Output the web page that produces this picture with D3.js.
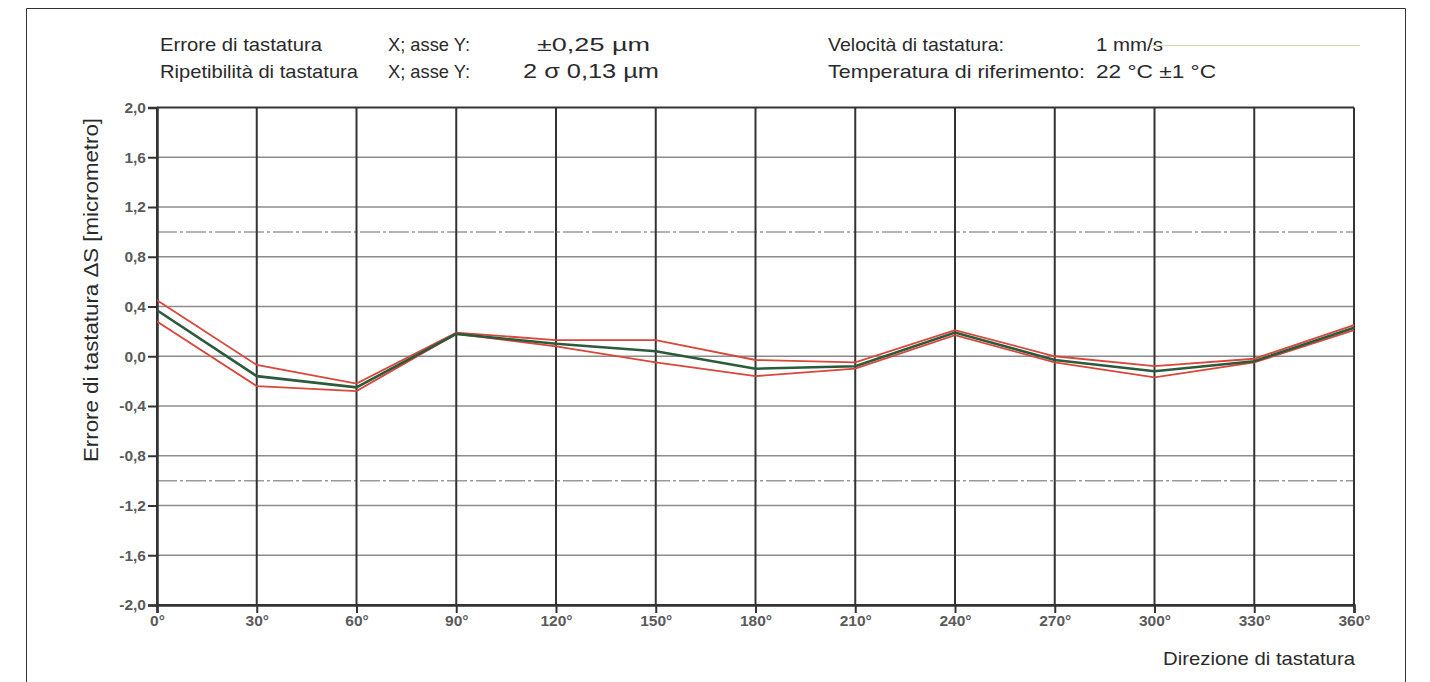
<!DOCTYPE html>
<html><head><meta charset="utf-8">
<script src="https://cdn.jsdelivr.net/npm/d3@7"></script>
<style>
html,body{margin:0;padding:0;background:#fff;}
svg{display:block;font-family:"Liberation Sans",Arial,sans-serif;}
</style></head>
<body>
<svg id="c" width="1430" height="682"></svg>
<script>
const angles = [0,30,60,90,120,150,180,210,240,270,300,330,360];
const meanErr  = [0.37,-0.16,-0.25,0.18,0.10,0.04,-0.10,-0.08,0.19,-0.03,-0.12,-0.04,0.23];
const upperErr = [0.45,-0.07,-0.22,0.19,0.13,0.13,-0.03,-0.05,0.21,0.00,-0.08,-0.02,0.25];
const lowerErr = [0.28,-0.24,-0.28,0.18,0.08,-0.05,-0.16,-0.10,0.17,-0.05,-0.17,-0.05,0.21];
const yTicks = [2.0,1.6,1.2,0.8,0.4,0.0,-0.4,-0.8,-1.2,-1.6,-2.0];
const limitLines = [1.0,-1.0];
const headerLeft = [["Errore di tastatura","X; asse Y:","±0,25 µm"],["Ripetibilità di tastatura","X; asse Y:","2 σ 0,13 µm"]];
const headerRight = [["Velocità di tastatura:","1 mm/s"],["Temperatura di riferimento:","22 °C ±1 °C"]];

const svg = d3.select("#c");
const x = d3.scaleLinear().domain([0,360]).range([157,1354]);
const y = d3.scaleLinear().domain([-2,2]).range([605,107.5]);

// frame
svg.append("path").attr("d","M26.5,682 V8.5 H1405.5 V682").attr("fill","none").attr("stroke","#333").attr("stroke-width",1);

// header
const hl = svg.append("g").attr("fill","#2a2a2a").attr("font-size",19);
function t(g, xx, yy, s, w, fs){
  const e = g.append("text").attr("x",xx).attr("y",yy).text(s)
    .attr("textLength",w).attr("lengthAdjust","spacingAndGlyphs");
  if(fs) e.attr("font-size",fs);
  return e;
}
const lw = [[162,82,113],[198,82,136]];
headerLeft.forEach((r,i)=>{
  const yy = 51 + i*27;
  t(hl,160,yy,r[0],lw[i][0]);
  t(hl,388,yy,r[1],lw[i][1]);
  t(hl,i===0?537:523,yy,r[2],lw[i][2],i===0?18:21);
});
const rw = [[176,67],[257,120]];
headerRight.forEach((r,i)=>{
  const yy = 51 + i*27;
  t(hl,828,yy,r[0],rw[i][0]);
  t(hl,1096,yy,r[1],rw[i][1]);
});
svg.append("line").attr("x1",1150).attr("x2",1360).attr("y1",45.5).attr("y2",45.5).attr("stroke","#d6dc9c").attr("stroke-width",1.2);

// horizontal grid
svg.append("g").selectAll("line").data(yTicks).join("line")
  .attr("x1",x(0)).attr("x2",x(360)).attr("y1",d=>y(d)).attr("y2",d=>y(d))
  .attr("stroke",d=>(d===2||d===-2)?"#333":"#8c8c8c").attr("stroke-width",d=>(d===2||d===-2)?2:1.5);

// limit lines
svg.append("g").selectAll("line").data(limitLines).join("line")
  .attr("x1",x(0)).attr("x2",x(360)).attr("y1",d=>y(d)).attr("y2",d=>y(d))
  .attr("stroke","#9a9a9a").attr("stroke-width",1.5).attr("stroke-dasharray","20 3 3 3");

// vertical grid
svg.append("g").selectAll("line").data(angles).join("line")
  .attr("x1",d=>x(d)).attr("x2",d=>x(d)).attr("y1",y(2)).attr("y2",y(-2))
  .attr("stroke","#333").attr("stroke-width",2);

const fmt = d => d.toFixed(1).replace(".",",").replace("−","-");
const ya = svg.append("g").attr("transform",`translate(${x(0)},0)`)
  .call(d3.axisLeft(y).tickValues(yTicks).tickSize(9).tickPadding(2).tickFormat(fmt));
ya.attr("font-size",15.5).attr("font-family","Liberation Sans, Arial");
ya.select(".domain").attr("stroke","#333").attr("stroke-width",2.5);
ya.selectAll(".tick line").attr("stroke","#333").attr("stroke-width",2);
ya.selectAll("text").attr("font-weight","bold").attr("fill","#5a5a5a");

const xa = svg.append("g").attr("transform",`translate(0,${y(-2)})`)
  .call(d3.axisBottom(x).tickValues(angles).tickSize(8).tickPadding(2).tickFormat(d=>d+"°"));
xa.attr("font-size",15.5).attr("font-family","Liberation Sans, Arial");
xa.select(".domain").attr("stroke","#333").attr("stroke-width",2.5);
xa.selectAll(".tick line").attr("stroke","#333").attr("stroke-width",2);
xa.selectAll("text").attr("font-weight","bold").attr("fill","#5a5a5a");

// axis titles
svg.append("text").attr("transform","translate(98,290) rotate(-90)").attr("text-anchor","middle")
  .attr("font-size",20).attr("fill","#2a2a2a").attr("textLength",344).attr("lengthAdjust","spacingAndGlyphs")
  .text("Errore di tastatura ΔS [micrometro]");
svg.append("text").attr("x",1355).attr("y",665).attr("text-anchor","end")
  .attr("font-size",19).attr("fill","#2a2a2a").attr("textLength",192).attr("lengthAdjust","spacingAndGlyphs")
  .text("Direzione di tastatura");

// lines
const line = d3.line().x((d,i)=>x(angles[i])).y(d=>y(d));
svg.append("path").datum(upperErr).attr("d",line).attr("fill","none").attr("stroke","#d9463a").attr("stroke-width",1.8);
svg.append("path").datum(lowerErr).attr("d",line).attr("fill","none").attr("stroke","#d9463a").attr("stroke-width",1.8);
svg.append("path").datum(meanErr).attr("d",line).attr("fill","none").attr("stroke","#2b5a3c").attr("stroke-width",2.6);
</script>
</body></html>
